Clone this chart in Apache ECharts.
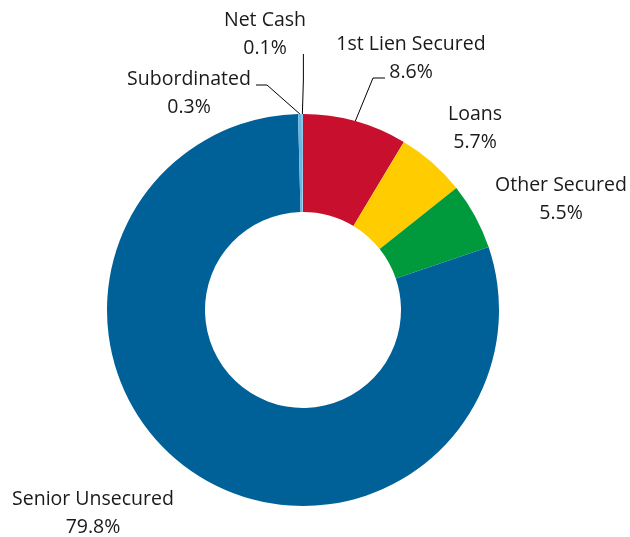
<!DOCTYPE html>
<html>
<head>
<meta charset="utf-8">
<script src="https://cdn.jsdelivr.net/npm/echarts@6/dist/echarts.min.js"></script>
<style>html,body{margin:0;padding:0;background:#fff}#c{width:630px;height:537px}</style>
</head>
<body>
<div id="c"></div>
<script>
const categories = ['1st Lien Secured', 'Loans', 'Other Secured', 'Senior Unsecured', 'Subordinated', 'Net Cash'];
const values = [8.6, 5.7, 5.5, 79.8, 0.3, 0.1];
const colors = ['#C8102E', '#FFCC00', '#009A3D', '#006199', '#6DB6E2', '#8CC8EA'];

const labelPos = {
  'Net Cash': { x: 265, y: 34, line: (s) => [s, [s[0] + 1, 80], [s[0] + 1, 54]] },
  '1st Lien Secured': { x: 411, y: 58, line: (s) => [s, [373, 78], [385, 78]] },
  'Subordinated': { x: 189, y: 93, line: (s) => [s, [267, 85], [256, 85]] },
  'Loans': { x: 475, y: 128 },
  'Other Secured': { x: 561, y: 199 },
  'Senior Unsecured': { x: 93, y: 513 }
};

const withLine = ['Net Cash', '1st Lien Secured', 'Subordinated'];

const chart = echarts.init(document.getElementById('c'), null, { renderer: 'canvas' });
chart.setOption({
  animation: false,
  series: [{
    type: 'pie',
    center: [303, 310],
    radius: [98, 196],
    startAngle: 90,
    clockwise: true,
    avoidLabelOverlap: false,
    data: categories.map((n, i) => ({
      name: n,
      value: values[i],
      itemStyle: { color: colors[i] },
      labelLine: { show: withLine.includes(n) }
    })),
    label: {
      show: true,
      position: 'outside',
      formatter: (p) => p.name + '\n' + p.value.toFixed(1) + '%',
      fontFamily: 'Open Sans',
      fontSize: 19.5,
      lineHeight: 28,
      color: '#1a1a1a',
      align: 'center'
    },
    labelLine: {
      show: true,
      lineStyle: { color: '#000', width: 1 }
    },
    emphasis: { disabled: true },
    labelLayout: function (params) {
      const name = categories[params.dataIndex];
      const p = labelPos[name];
      const res = { x: p.x, y: p.y, align: 'center', verticalAlign: 'middle' };
      if (p.line && params.labelLinePoints) {
        const s = params.labelLinePoints[0];
        res.labelLinePoints = p.line(s);
      }
      return res;
    }
  }]
});
</script>
</body>
</html>
